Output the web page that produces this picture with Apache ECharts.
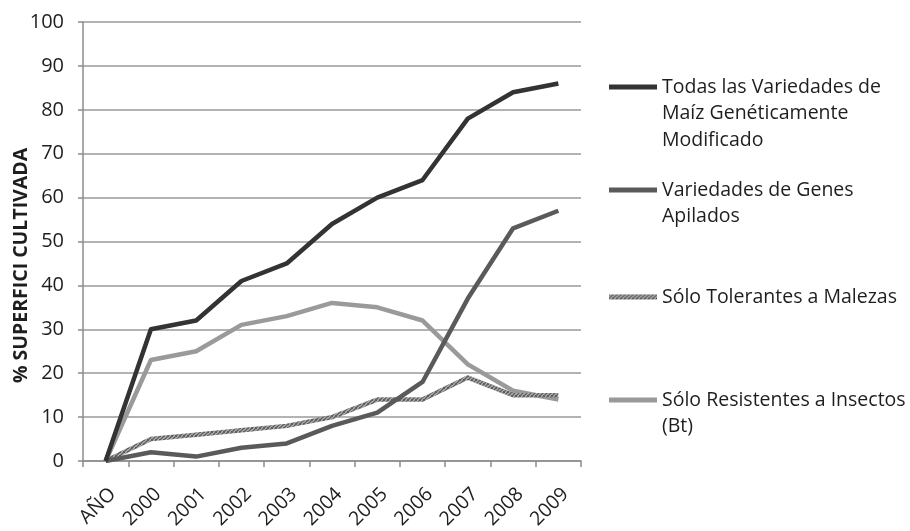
<!DOCTYPE html>
<html>
<head>
<meta charset="utf-8">
<script src="https://cdn.jsdelivr.net/npm/echarts@6/dist/echarts.min.js"></script>
<style>
  html, body { margin: 0; padding: 0; background: #fff; }
  #chart { width: 910px; height: 531px; }
</style>
</head>
<body>
<div id="chart"></div>
<script>
// Datos
const categories = ['AÑO', '2000', '2001', '2002', '2003', '2004', '2005', '2006', '2007', '2008', '2009'];
const todas = [0, 30, 32, 41, 45, 54, 60, 64, 78, 84, 86];
const apilados = [0, 2, 1, 3, 4, 8, 11, 18, 37, 53, 57];
const tolerantes = [0, 5, 6, 7, 8, 10, 14, 14, 19, 15, 15];
const resistentes = [0, 23, 25, 31, 33, 36, 35, 32, 22, 16, 14];
const yTicks = { min: 0, max: 100, interval: 10 };

const seriesNames = [
  'Todas las Variedades de\nMaíz Genéticamente\nModificado',
  'Variedades de Genes\nApilados',
  'Sólo Tolerantes a Malezas',
  'Sólo Resistentes a Insectos\n(Bt)'
];

const FONT = '"Open Sans", sans-serif';
const LINE_H = 26.5;

// textura moteada para la serie de tolerantes
function speckle() {
  const c = document.createElement('canvas');
  c.width = 4; c.height = 4;
  const ctx = c.getContext('2d');
  ctx.fillStyle = '#8a8a8a';
  ctx.fillRect(0, 0, 4, 4);
  ctx.fillStyle = '#5e5e5e';
  [[0, 0], [2, 1], [1, 2], [3, 3], [3, 0], [0, 3]].forEach(([x, y]) => ctx.fillRect(x, y, 1, 1));
  ctx.fillStyle = '#b0b0b0';
  [[1, 0], [3, 2], [0, 1], [2, 3]].forEach(([x, y]) => ctx.fillRect(x, y, 1, 1));
  return { image: c, repeat: 'repeat' };
}

const colors = ['#333333', '#5a5a5a', speckle(), '#9a9a9a'];
// altura (y) de la muestra de cada leyenda
const legendIconY = [87, 190, 297, 400];

function makeLegend(i) {
  const lines = seriesNames[i].split('\n').length;
  // lineas vacias delante para que la muestra quede en la primera linea
  const pad = '\n'.repeat(lines - 1);
  const blockH = (2 * lines - 1) * LINE_H;
  return {
    data: [seriesNames[i]],
    left: 609,
    top: legendIconY[i] - blockH / 2,
    padding: 0,
    itemWidth: 48,
    itemHeight: 5,
    icon: 'rect',
    selectedMode: false,
    formatter: (name) => pad + name,
    textStyle: {
      fontFamily: FONT,
      fontSize: 19.5,
      color: '#1e1e1e',
      lineHeight: LINE_H
    }
  };
}

function makeSeries(i, data) {
  return {
    name: seriesNames[i],
    type: 'line',
    data: data,
    symbol: 'none',
    lineStyle: { width: 4.5, color: colors[i], join: 'round' },
    itemStyle: { color: colors[i] },
    z: 10 - i
  };
}

const chart = echarts.init(document.getElementById('chart'), null, { renderer: 'canvas' });
chart.setOption({
  animation: false,
  backgroundColor: '#fff',
  grid: { left: 83, right: 329, top: 22, bottom: 70, outerBoundsMode: 'none', containLabel: false },
  legend: [0, 1, 2, 3].map(makeLegend),
  xAxis: {
    type: 'category',
    data: categories,
    boundaryGap: true,
    axisLine: { lineStyle: { color: '#8c8c8c', width: 1.5 } },
    axisTick: { show: true, length: 6, lineStyle: { color: '#8c8c8c', width: 1.5 } },
    axisLabel: {
      interval: 0,
      rotate: 45,
      margin: 23,
      align: 'right',
      verticalAlign: 'top',
      fontFamily: FONT,
      fontSize: 19.5,
      color: '#1e1e1e'
    }
  },
  yAxis: {
    type: 'value',
    min: yTicks.min,
    max: yTicks.max,
    interval: yTicks.interval,
    name: '% SUPERFICI CULTIVADA',
    nameLocation: 'middle',
    nameGap: 52,
    nameMoveOverlap: false,
    nameTextStyle: {
      fontFamily: FONT, fontSize: 19.5, fontWeight: 'bold', color: '#1e1e1e',
      padding: [0, 48, 0, 0]
    },
    axisLine: { show: true, lineStyle: { color: '#8c8c8c', width: 1.5 } },
    axisTick: { show: true, length: 5, lineStyle: { color: '#8c8c8c', width: 1.5 } },
    splitLine: { lineStyle: { color: '#9a9a9a', width: 1.5 } },
    axisLabel: { fontFamily: FONT, fontSize: 20, color: '#1e1e1e', margin: 19 }
  },
  series: [
    makeSeries(0, todas),
    makeSeries(1, apilados),
    makeSeries(2, tolerantes),
    makeSeries(3, resistentes)
  ]
});
</script>
</body>
</html>
